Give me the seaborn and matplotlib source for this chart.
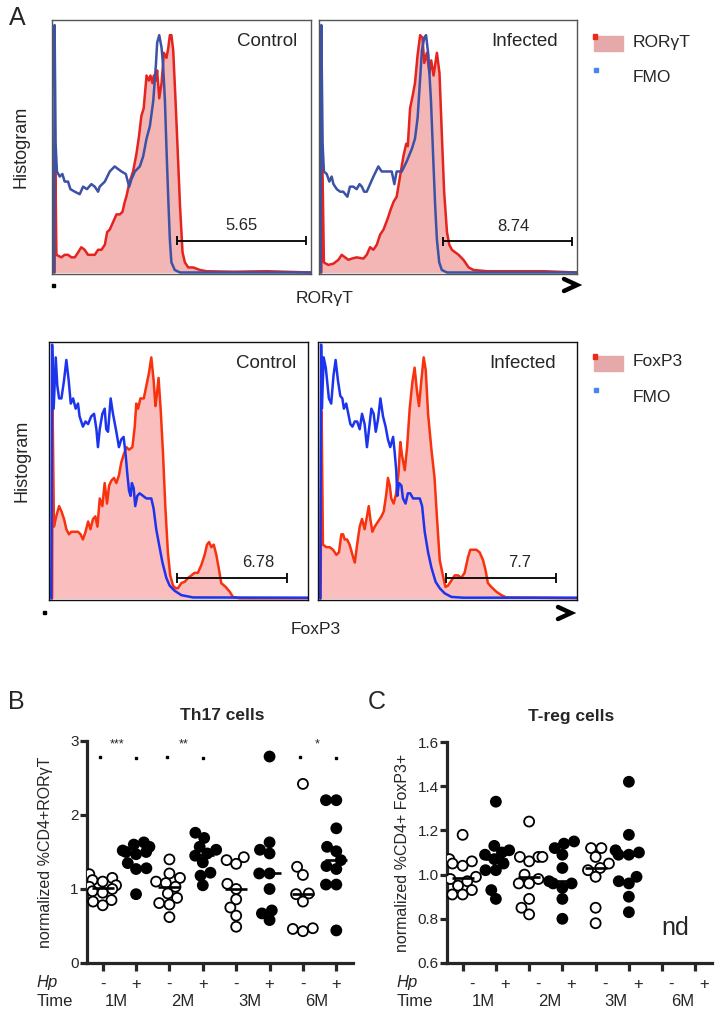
import numpy as np
import pandas as pd

import matplotlib
matplotlib.use("Agg")

import matplotlib.pyplot as plt
import seaborn as sns
from matplotlib.lines import Line2D
from matplotlib.patches import Rectangle
from matplotlib.transforms import ScaledTranslation, blended_transform_factory

# ============================================================
# Data: flow histograms (channel 0-1000, % of max)
# ============================================================

# RORgT, control
ror_ctrl_x = [10, 12, 17, 36, 49, 62, 75, 88, 101, 113, 126, 139, 152, 165, 178, 191, 204, 213, 223, 236,
              249, 262, 272, 281, 287, 300, 313, 326, 336, 345, 354, 365, 374, 380, 388, 393, 401, 406, 414, 423,
              432, 442, 449, 455, 461, 468, 477, 485, 494, 504, 513, 526, 545, 571, 597, 700, 829, 1000]
ror_ctrl_y = [0, 50, 7, 6, 7, 7, 6, 6, 8, 10, 9, 7, 7, 7, 9, 9, 11, 16, 17, 20,
              23, 23, 24, 28, 30, 36, 40, 47, 54, 62, 65, 78, 76, 78, 75, 78, 76, 80, 69, 75,
              87, 85, 89, 94, 94, 88, 68, 49, 27, 8, 4, 2, 2, 1, 0.5, 0.3, 0.5, 0]
fmo_ror_ctrl_x = [8, 10, 14, 19, 30, 40, 49, 62, 71, 88, 107, 120, 135, 152, 165, 178, 184, 204, 223, 242,
                  255, 268, 285, 298, 307, 320, 339, 352, 365, 378, 391, 401, 406, 414, 423, 429, 436, 442, 449, 455,
                  461, 474, 494, 1000]
fmo_ror_ctrl_y = [0, 98, 51, 40, 38, 39, 36, 36, 33, 32, 31, 34, 33, 35, 34, 32, 34, 36, 40, 42,
                  41, 40, 39, 34, 37, 40, 42, 46, 53, 58, 68, 82, 91, 94, 89, 82, 68, 49, 29, 13,
                  4, 1, 0, 0]

# RORgT, infected
ror_inf_x = [9, 12, 19, 36, 56, 75, 88, 101, 114, 127, 146, 172, 185, 198, 211, 224, 237, 250, 265, 278,
             289, 301, 314, 327, 338, 344, 353, 363, 372, 382, 392, 401, 408, 418, 428, 435, 444, 457, 467, 476,
             485, 496, 505, 515, 528, 541, 560, 580, 599, 651, 767, 871, 1000]
ror_inf_y = [0, 51, 4, 3, 3.5, 5, 7, 6, 5, 5.5, 6, 5.5, 7, 10, 9, 11, 15, 17, 21, 25,
             28, 30, 38, 46, 51, 50, 65, 70, 75, 86, 94, 93, 83, 87, 79, 84, 78, 87, 79, 55,
             32, 16, 11, 9, 8, 7, 5, 2, 1, 0.5, 0.5, 0.5, 0]
fmo_ror_inf_x = [6, 9, 14, 19, 30, 40, 49, 56, 69, 82, 94, 110, 120, 133, 146, 157, 166, 175, 185, 198,
                 211, 230, 243, 263, 282, 292, 301, 321, 340, 360, 372, 382, 389, 399, 408, 415, 424, 434, 444, 450,
                 457, 466, 476, 496, 1000]
fmo_ror_inf_y = [0, 98, 51, 40, 39, 36, 38, 35, 33, 32, 32, 30, 34, 34, 33, 35, 34, 32, 32, 35,
                 38, 42, 40, 40, 40, 35, 40, 40, 44, 49, 53, 61, 72, 88, 93, 94, 86, 68, 42, 27,
                 13, 4, 1, 0, 0]

# FoxP3, control
fox_ctrl_x = [12, 14, 19, 28, 39, 48, 58, 67, 77, 86, 99, 112, 122, 131, 141, 151, 160, 170, 179, 187,
              196, 206, 215, 224, 232, 241, 251, 260, 270, 279, 288, 299, 309, 322, 331, 337, 344, 353, 366, 376,
              386, 395, 404, 411, 417, 423, 431, 440, 449, 459, 468, 479, 489, 498, 511, 524, 537, 550, 562, 575,
              588, 601, 610, 618, 627, 636, 646, 655, 665, 682, 698, 710, 736, 1000]
fox_ctrl_y = [0, 74, 28, 32, 36, 34, 31, 27, 25, 26, 26, 26, 25, 23, 26, 30, 27, 31, 32, 28,
              39, 36, 45, 37, 44, 46, 47, 45, 48, 53, 56, 59, 58, 59, 67, 76, 74, 78, 78, 83,
              88, 94, 85, 75, 80, 86, 74, 57, 36, 18, 9, 5, 4, 4, 6, 6.5, 8, 9, 10, 10,
              13, 17, 21, 22, 20, 21, 17, 12, 6, 4.5, 2.6, 0.6, 0.1, 0.1]
fmo_fox_ctrl_x = [9, 12, 18, 26, 32, 39, 48, 58, 67, 76, 84, 93, 103, 112, 118, 131, 141, 151, 163, 174,
                  183, 189, 196, 206, 215, 221, 228, 238, 247, 260, 270, 279, 288, 296, 302, 309, 315, 320, 327, 333,
                  341, 350, 363, 376, 395, 404, 414, 425, 438, 453, 466, 485, 511, 556, 1000]
fmo_fox_ctrl_y = [0, 99, 74, 94, 83, 78, 78, 85, 93, 85, 76, 78, 74, 76, 71, 67, 69, 68, 71, 72,
                  66, 59, 66, 72, 74, 66, 65, 78, 72, 65, 59, 62, 63, 56, 49, 42, 40, 45, 43, 36,
                  40, 41, 40, 39, 39, 35, 27, 21, 14, 8, 5, 3, 1.3, 0.4, 0.3]

# FoxP3, infected
fox_inf_x = [10, 14, 19, 32, 45, 58, 71, 81, 90, 97, 103, 112, 122, 133, 142, 151, 161, 170, 180, 189,
             196, 202, 210, 219, 232, 245, 254, 264, 270, 277, 283, 292, 302, 311, 318, 324, 335, 344, 354, 364,
             373, 382, 390, 399, 408, 416, 425, 438, 450, 459, 470, 480, 492, 502, 515, 528, 541, 553, 566, 579,
             588, 598, 611, 624, 637, 647, 656, 669, 689, 708, 727, 1000]
fox_inf_y = [0, 73, 21, 20, 20, 19, 17, 18, 25, 25, 23, 23, 21, 17, 14, 21, 28, 31, 27, 32,
             36, 31, 26, 28, 30, 32, 34, 41, 47, 44, 39, 37, 41, 49, 61, 56, 50, 59, 74, 84,
             90, 81, 75, 85, 94, 89, 72, 58, 47, 32, 15, 10, 4.5, 5, 7, 9, 9, 8, 10, 16,
             19, 19, 19, 18, 15, 11, 6, 4.5, 2.6, 1.3, 0.4, 0.1]
fmo_fox_inf_x = [9, 12, 15, 22, 30, 36, 42, 51, 60, 68, 77, 86, 94, 100, 109, 117, 125, 133, 142, 151,
                 161, 170, 180, 189, 197, 206, 215, 223, 232, 241, 251, 261, 270, 279, 290, 296, 302, 306, 313, 322,
                 328, 338, 347, 356, 367, 380, 393, 402, 412, 425, 438, 454, 470, 489, 515, 560, 1000]
fmo_fox_inf_y = [0, 99, 74, 94, 90, 84, 78, 76, 87, 93, 85, 79, 78, 74, 76, 72, 68, 67, 69, 69,
                 66, 72, 68, 59, 66, 74, 72, 65, 70, 78, 71, 67, 62, 59, 63, 57, 50, 40, 45, 44,
                 39, 37, 41, 41, 39, 39, 39, 36, 26, 18, 12, 6.5, 4, 2, 0.6, 0.3, 0.3]

# gates: (start, end, level), percentages and where the number sits
gate_ror_ctrl = (481, 981, 12.5)
gate_ror_inf = (480, 981, 12.3)
gate_fox_ctrl = (495, 919, 8.0)
gate_fox_inf = (496, 918, 8.0)
pct_ror = ["5.65", "8.74"]
pct_fox = ["6.78", "7.7"]
pct_ror_x = [732, 752]
pct_fox_x = [807, 780]

# ============================================================
# Data: scatter panels
# ============================================================

groups = ["1M-", "1M+", "2M-", "2M+", "3M-", "3M+", "6M-", "6M+"]
hp_labels = ["-", "+", "-", "+", "-", "+", "-", "+"]
time_labels = ["1M", "2M", "3M", "6M"]

th17_1m_neg = [1.2, 1.15, 1.12, 1.1, 1.05, 1.03, 1.0, 0.97, 0.95, 0.85, 0.83, 0.78]
th17_1m_pos = [1.63, 1.6, 1.57, 1.52, 1.5, 1.5, 1.47, 1.35, 1.28, 1.27, 0.93]
th17_2m_neg = [1.4, 1.21, 1.15, 1.1, 1.08, 1.03, 0.94, 0.88, 0.81, 0.79, 0.62]
th17_2m_pos = [1.76, 1.69, 1.57, 1.53, 1.48, 1.45, 1.36, 1.22, 1.18, 1.05]
th17_3m_neg = [1.43, 1.39, 1.34, 1.07, 1.0, 0.86, 0.75, 0.64, 0.49]
th17_3m_pos = [2.79, 1.63, 1.53, 1.48, 1.21, 1.21, 1.0, 0.71, 0.67, 0.58]
th17_6m_neg = [2.42, 1.3, 1.19, 0.94, 0.93, 0.83, 0.47, 0.46, 0.43]
th17_6m_pos = [2.2, 2.2, 1.82, 1.57, 1.51, 1.39, 1.31, 1.27, 1.06, 1.06, 0.44]

treg_1m_neg = [1.18, 1.07, 1.06, 1.05, 1.04, 0.99, 0.98, 0.97, 0.95, 0.93, 0.91, 0.91]
treg_1m_pos = [1.33, 1.13, 1.11, 1.10, 1.09, 1.07, 1.05, 1.02, 1.02, 0.93, 0.89]
treg_2m_neg = [1.24, 1.08, 1.08, 1.08, 1.06, 1.0, 0.98, 0.96, 0.96, 0.89, 0.85, 0.82]
treg_2m_pos = [1.15, 1.14, 1.12, 1.09, 1.03, 0.97, 0.96, 0.96, 0.94, 0.89, 0.80]
treg_3m_neg = [1.12, 1.12, 1.08, 1.05, 1.03, 1.02, 0.99, 0.85, 0.78]
treg_3m_pos = [1.42, 1.18, 1.11, 1.10, 1.09, 1.09, 0.99, 0.97, 0.96, 0.90, 0.83]

# significance: (group i, group j, stars)
sig_th17 = [(0, 1, "***"), (2, 3, "**"), (6, 7, "*")]

# ============================================================
# Figure setup
# ============================================================

sns.set_theme(style="ticks")
plt.rcParams["font.family"] = ["Liberation Sans", "DejaVu Sans"]

W, H = 721, 1018
fig = plt.figure(figsize=(W / 100, H / 100), dpi=100)


def box(l, t, r, b):
    return [l / W, 1 - b / H, (r - l) / W, (b - t) / H]


def fxy(x, y):
    return x / W, 1 - y / H


def draw_hist(ax, rx, ry, bx, by, gate, pct, pct_x, title, title_x, red, fill, blue, frame):
    ax.fill_between(rx, ry, 0, color=fill, lw=0)
    sns.lineplot(x=rx, y=ry, ax=ax, color=red, lw=1.8, sort=False, estimator=None)
    sns.lineplot(x=bx, y=by, ax=ax, color=blue, lw=1.8, sort=False, estimator=None)
    g0, g1, gy = gate
    ax.hlines(gy, g0, g1, color="black", lw=1.3)
    ax.vlines([g0, g1], gy - 1.8, gy + 1.8, color="black", lw=1.3)
    ax.text(pct_x, gy + 6, pct, ha="center", va="center", fontsize=12)
    ax.text(title_x, 0.915, title, transform=ax.transAxes, ha="right", va="center", fontsize=13.5)
    ax.set_xlim(0, 1000)
    ax.set_ylim(-0.6, 100)
    ax.set_xticks([])
    ax.set_yticks([])
    ax.set_xlabel("")
    ax.set_ylabel("")
    for s in ax.spines.values():
        s.set_color(frame)
        s.set_linewidth(1.0)


def draw_legend(top, label, red, fill, blue):
    fig.add_artist(Rectangle(fxy(594, top + 15), 29 / W, 15 / H, color=fill, transform=fig.transFigure))
    fig.add_artist(Rectangle(fxy(593, top + 3), 4 / W, 5 / H, color=red, transform=fig.transFigure))
    fig.text(*fxy(633, top + 6), label, va="center", fontsize=12.5)
    fig.add_artist(Rectangle(fxy(594, top + 36), 4 / W, 4 / H, color=blue, transform=fig.transFigure))
    fig.text(*fxy(633, top + 41), "FMO", va="center", fontsize=12.5)


def draw_arrow(x, y):
    xs = [(x - 7) / W, (x + 6) / W, (x - 7) / W]
    ys = [1 - (y - 6) / H, 1 - y / H, 1 - (y + 6) / H]
    fig.add_artist(Line2D(xs, ys, color="black", lw=3.2, solid_joinstyle="miter",
                          transform=fig.transFigure))


# ============================================================
# Panel A: histograms
# ============================================================

top_red, top_fill, top_blue = "#e5231f", "#f4b5b5", "#3b52a6"
bot_red, bot_fill, bot_blue = "#f7320d", "#fbbebe", "#1c34ee"

ax1 = fig.add_axes(box(52, 20, 311, 274))
draw_hist(ax1, ror_ctrl_x, ror_ctrl_y, fmo_ror_ctrl_x, fmo_ror_ctrl_y, gate_ror_ctrl, pct_ror[0], pct_ror_x[0],
          "Control", 0.945, top_red, top_fill, top_blue, "#555555")
ax2 = fig.add_axes(box(319, 20, 577, 274))
draw_hist(ax2, ror_inf_x, ror_inf_y, fmo_ror_inf_x, fmo_ror_inf_y, gate_ror_inf, pct_ror[1], pct_ror_x[1],
          "Infected", 0.925, top_red, top_fill, top_blue, "#555555")
ax3 = fig.add_axes(box(49, 342, 308, 600))
draw_hist(ax3, fox_ctrl_x, fox_ctrl_y, fmo_fox_ctrl_x, fmo_fox_ctrl_y, gate_fox_ctrl, pct_fox[0], pct_fox_x[0],
          "Control", 0.955, bot_red, bot_fill, bot_blue, "#111111")
ax4 = fig.add_axes(box(318, 342, 577, 600))
draw_hist(ax4, fox_inf_x, fox_inf_y, fmo_fox_inf_x, fmo_fox_inf_y, gate_fox_inf, pct_fox[1], pct_fox_x[1],
          "Infected", 0.92, bot_red, bot_fill, bot_blue, "#111111")

ax1.set_ylabel("Histogram", fontsize=13)
ax1.yaxis.set_label_coords(-0.085, 0.5)
ax3.set_ylabel("Histogram", fontsize=13)
ax3.yaxis.set_label_coords(-0.073, 0.54)

draw_legend(36, "RORγT", "#ee2a1c", "#e6a9a9", "#4a86e8")
draw_legend(356, "FoxP3", "#ee2a1c", "#e6a9a9", "#4a86e8")

fig.text(*fxy(325, 298), "RORγT", ha="center", va="center", fontsize=12.5)
fig.text(*fxy(316, 630), "FoxP3", ha="center", va="center", fontsize=12.5)
draw_arrow(571, 285)
draw_arrow(565, 613)
fig.add_artist(Rectangle(fxy(52, 287), 3 / W, 3 / H, color="black", transform=fig.transFigure))
fig.add_artist(Rectangle(fxy(43, 614), 3 / W, 3 / H, color="black", transform=fig.transFigure))

fig.text(*fxy(17, 18), "A", ha="center", va="center", fontsize=18)
fig.text(*fxy(16, 702), "B", ha="center", va="center", fontsize=18)
fig.text(*fxy(377, 702), "C", ha="center", va="center", fontsize=18)

# ============================================================
# Panels B and C: dot plots
# ============================================================


def to_frame(series):
    rows = []
    for g, vals in zip(groups, series):
        for v in vals:
            rows.append((g, g[-1], v))
    return pd.DataFrame(rows, columns=["group", "hp", "value"])


df_th17 = to_frame([th17_1m_neg, th17_1m_pos, th17_2m_neg, th17_2m_pos,
                    th17_3m_neg, th17_3m_pos, th17_6m_neg, th17_6m_pos])
df_treg = to_frame([treg_1m_neg, treg_1m_pos, treg_2m_neg, treg_2m_pos,
                    treg_3m_neg, treg_3m_pos, [], []])


def dot_panel(ax, df, ylim, yticks, ylabel, label_x, label_shift, time_shift):
    ax.set_xlim(-0.47, 7.5)
    ax.set_ylim(*ylim)
    # lay the swarm out with slightly smaller markers so the groups stay compact
    sns.swarmplot(data=df, x="group", y="value", hue="hp", order=groups,
                  palette={"-": "white", "+": "black"}, edgecolor="black",
                  linewidth=1.3, size=5.8, legend=False, ax=ax)
    ax.set_xlim(-0.47, 7.5)
    ax.set_ylim(*ylim)
    fig.canvas.draw()
    for coll in ax.collections:
        if "draw" in coll.__dict__:
            del coll.draw
        coll.set_sizes([7.2 ** 2])

    med = df.groupby("group")["value"].median()
    pos = np.array([groups.index(g) for g in med.index])
    ax.hlines(med.values, pos - 0.33, pos + 0.33, color="black", lw=1.9, zorder=6)

    ax.set_yticks(yticks)
    ax.set_xticks(range(len(groups)))
    ax.set_xticklabels(hp_labels)
    sns.despine(ax=ax)
    for s in ["left", "bottom"]:
        ax.spines[s].set_linewidth(2.3)
    ax.tick_params(axis="y", width=2.3, length=5, pad=1, labelsize=11)
    ax.tick_params(axis="x", width=2.3, length=6, pad=4, labelsize=12)
    if label_shift:
        off = ScaledTranslation(label_shift / 100, 0, fig.dpi_scale_trans)
        for lab in ax.get_xticklabels():
            lab.set_transform(lab.get_transform() + off)
    ax.set_xlabel("")
    ax.set_ylabel(ylabel, fontsize=11.5)
    ax.yaxis.set_label_coords(label_x, 0.5)

    trans = blended_transform_factory(ax.transData, ax.transAxes)
    for k, t in enumerate(time_labels):
        ax.text(2 * k + 0.5 + time_shift, -0.172, t, transform=trans,
                ha="center", va="center", fontsize=12)
    ax.text(-0.19, -0.088, "Hp", transform=ax.transAxes, ha="left", va="center",
            fontsize=12, fontstyle="italic")
    ax.text(-0.19, -0.172, "Time", transform=ax.transAxes, ha="left", va="center", fontsize=12)


axB = fig.add_axes(box(87, 741, 353, 963))
dot_panel(axB, df_th17, (0, 3), [0, 1, 2, 3], "normalized %CD4+RORγT", -0.128, 0, -0.1)
for i, j, stars in sig_th17:
    axB.plot([i - 0.08, j], [2.78, 2.77], ls="none", marker="s", ms=1.9, color="black")
    axB.text((i + j) / 2 - 0.08, 2.95, stars, ha="center", va="center", fontsize=9)

axC = fig.add_axes(box(447, 742, 712, 963))
dot_panel(axC, df_treg, (0.6, 1.6), [0.6, 0.8, 1.0, 1.2, 1.4, 1.6],
          "normalized %CD4+ FoxP3+", -0.14, 9, 0.12)
axC.yaxis.set_major_formatter(matplotlib.ticker.FormatStrFormatter("%.1f"))
axC.text(6.38, 0.76, "nd", ha="center", va="center", fontsize=18)

fig.text(*fxy(222, 715), "Th17 cells", ha="center", va="center", fontsize=12.5, fontweight="bold")
fig.text(*fxy(571, 716), "T-reg cells", ha="center", va="center", fontsize=12.5, fontweight="bold")

fig.savefig("out.png", dpi=100)
